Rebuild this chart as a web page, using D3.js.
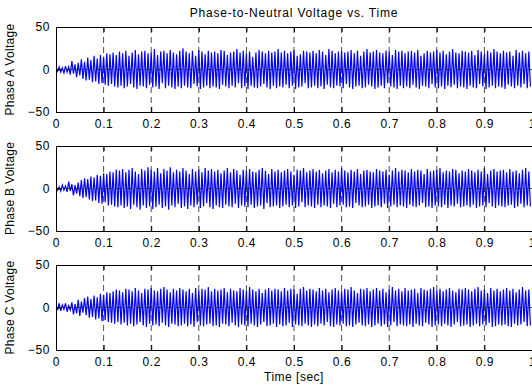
<!DOCTYPE html>
<meta charset="utf-8">
<head>
</head>
<body style="margin:0;background:#fff">
<style>
text {
  font-family: "Liberation Sans", Arial, sans-serif;
  fill: #000;
}
.grid line {
  stroke: #222;
  stroke-width: 0.8px;
  stroke-dasharray: 6,4;
}
.trace {
  fill: none;
  stroke: #0000ff;
  stroke-width: 1.2px;
}
</style>
<svg width="532" height="385"></svg>
<script src="https://cdn.jsdelivr.net/npm/d3@7"></script>
<script>
// one entry per cycle: positive and negative peak of the trace
var cycleSec = 1 / 150;

var phaseA_hi = [2,3,2,4,3,10,6,8,12,9, 14,11,16,13,17,15,19,18,20,17,
  21,19,22,16,20,23,18,21,22,19, 20,24,17,21,22,19,23,20,18,22,
  25,21,19,22,16,23,21,18,22,20, 21,19,23,22,17,20,21,24,20,22,
  19,21,15,20,23,21,19,22,20,21, 24,20,22,19,21,23,16,18,22,21,
  20,22,19,23,21,17,24,22,19,21, 22,20,21,23,19,22,16,21,24,20,
  21,23,20,19,22,21,17,23,21,22, 19,21,22,20,23,16,19,22,20,21,
  23,20,22,18,21,24,20,19,22,21, 20,22,17,23,21,19,22,20,24,21,
  19,22,20,21,16,23,20,22,19,21];
var phaseA_lo = [-2,-3,-4,-3,-6,-5,-9,-7,-11,-13, -12,-15,-14,-17,-16,-18,-19,-17,-20,-21,
  -19,-22,-20,-17,-21,-23,-19,-20,-22,-18, -21,-20,-23,-16,-22,-19,-21,-23,-20,-22,
  -19,-21,-22,-17,-20,-23,-21,-19,-22,-20, -21,-23,-18,-20,-22,-19,-21,-16,-22,-20,
  -23,-19,-21,-22,-20,-17,-21,-23,-19,-22, -20,-21,-18,-22,-19,-23,-21,-20,-16,-22,
  -21,-19,-22,-20,-23,-18,-21,-22,-19,-20, -22,-17,-21,-23,-20,-19,-22,-21,-18,-20,
  -23,-21,-19,-22,-16,-20,-21,-23,-19,-22, -20,-22,-18,-21,-23,-19,-20,-22,-17,-21,
  -22,-20,-23,-19,-21,-18,-22,-20,-21,-23, -19,-21,-22,-17,-20,-23,-21,-19,-22,-20,
  -21,-23,-18,-20,-22,-19,-21,-17,-22,-20];

var phaseB_hi = [3,2,4,3,8,5,4,7,10,12, 11,14,13,16,15,18,17,20,19,22,
  21,23,19,22,24,20,17,23,21,25, 22,20,24,18,23,21,25,19,22,20,
  24,21,17,23,20,22,19,24,21,23, 20,22,18,21,24,19,23,21,16,22,
  21,23,20,19,22,24,21,17,23,20, 22,19,21,23,20,16,22,21,24,19,
  21,23,20,22,18,21,23,19,22,20, 24,21,19,22,20,23,17,21,22,20,
  19,23,21,20,22,16,21,24,20,22, 21,19,23,20,22,21,17,23,20,21,
  22,24,19,21,20,23,22,18,21,20, 23,21,19,22,20,24,17,21,23,20,
  21,22,19,23,20,21,18,22,24,20];
var phaseB_lo = [-2,-3,-2,-4,-3,-8,-6,-9,-11,-10, -13,-15,-14,-17,-18,-16,-20,-19,-21,-22,
  -20,-23,-21,-24,-19,-22,-25,-20,-23,-21, -24,-22,-19,-23,-21,-25,-20,-22,-18,-23,
  -21,-24,-20,-22,-19,-23,-21,-17,-22,-24, -20,-22,-23,-19,-21,-22,-18,-23,-20,-21,
  -22,-19,-23,-21,-20,-24,-17,-22,-21,-20, -23,-21,-19,-22,-20,-23,-21,-16,-22,-20,
  -21,-23,-19,-22,-20,-21,-23,-18,-22,-20, -19,-22,-21,-23,-17,-20,-22,-21,-19,-23,
  -21,-20,-22,-18,-23,-21,-19,-22,-20,-21, -23,-19,-21,-22,-20,-17,-22,-21,-23,-20,
  -21,-22,-19,-23,-20,-21,-18,-22,-21,-20, -22,-19,-23,-21,-20,-22,-17,-21,-23,-20,
  -21,-22,-20,-19,-23,-21,-18,-22,-20,-21];

var phaseC_hi = [4,5,3,5,2,6,4,9,7,11, 13,10,14,12,16,15,18,17,19,21,
  20,18,22,21,19,23,20,17,22,21, 23,20,19,22,24,21,18,22,20,23,
  21,19,22,17,23,20,22,21,24,19, 22,20,21,23,18,22,20,19,23,21,
  20,24,21,19,22,17,21,23,20,22, 21,19,23,20,22,21,16,22,24,20,
  22,21,19,23,20,22,18,21,23,20, 19,22,21,24,20,17,22,21,23,19,
  21,23,20,22,18,21,24,20,22,19, 23,20,21,22,17,23,21,20,22,24,
  20,22,19,21,23,20,18,22,21,23, 21,19,22,24,20,21,17,23,20,22,
  19,21,23,20,22,18,21,24,20,21];
var phaseC_lo = [-3,-4,-2,-5,-3,-8,-7,-10,-6,-9, -12,-11,-14,-13,-16,-15,-17,-18,-19,-17,
  -20,-18,-21,-19,-22,-20,-17,-21,-23,-19, -21,-20,-22,-18,-21,-23,-19,-20,-22,-21,
  -19,-22,-20,-23,-17,-21,-22,-20,-19,-22, -21,-23,-19,-20,-22,-18,-21,-23,-20,-21,
  -22,-19,-21,-23,-20,-17,-22,-21,-19,-23, -20,-22,-21,-18,-23,-20,-21,-22,-19,-21,
  -23,-20,-22,-19,-21,-17,-22,-23,-20,-21, -19,-22,-21,-23,-20,-18,-21,-22,-20,-23,
  -21,-19,-22,-20,-23,-21,-17,-22,-20,-21, -22,-20,-23,-19,-21,-22,-18,-20,-23,-21,
  -20,-22,-19,-21,-23,-20,-17,-22,-21,-20, -23,-21,-19,-22,-20,-21,-18,-23,-22,-20,
  -21,-20,-22,-23,-19,-21,-20,-17,-22,-21];

var panels = [
  {label: "Phase A Voltage", hi: phaseA_hi, lo: phaseA_lo},
  {label: "Phase B Voltage", hi: phaseB_hi, lo: phaseB_lo},
  {label: "Phase C Voltage", hi: phaseC_hi, lo: phaseC_lo}
];
var xTicks = [0, 0.1, 0.2, 0.3, 0.4, 0.5, 0.6, 0.7, 0.8, 0.9, 1];
var yTicks = [-50, 0, 50];

var svg = d3.select("svg");
var left = 56, right = 532, plotH = 85, tops = [27, 146, 265];

var x = d3.scaleLinear().domain([0, 1]).range([left, right]);

svg.append("text")
  .attr("x", (left + right) / 2)
  .attr("y", 17)
  .attr("text-anchor", "middle")
  .style("font-size", "12px")
  .style("letter-spacing", "0.8px")
  .text("Phase-to-Neutral Voltage vs. Time");

panels.forEach(function(p, k) {
  var top = tops[k];
  var y = d3.scaleLinear().domain([-50, 50]).range([top + plotH, top]);
  var g = svg.append("g");

  var pts = [];
  p.hi.forEach(function(v, i) {
    pts.push([i * cycleSec, v]);
    pts.push([(i + 0.5) * cycleSec, p.lo[i]]);
  });

  g.append("clipPath").attr("id", "clip" + k)
    .append("rect").attr("x", left).attr("y", top).attr("width", right - left).attr("height", plotH);

  g.append("path")
    .attr("class", "trace")
    .attr("clip-path", "url(#clip" + k + ")")
    .attr("d", d3.line().x(function(d) { return x(d[0]); }).y(function(d) { return y(d[1]); })(pts));

  var grid = g.append("g").attr("class", "grid");
  grid.selectAll("line.v").data(xTicks.slice(1, -1)).enter().append("line")
    .attr("x1", function(d) { return x(d); }).attr("x2", function(d) { return x(d); })
    .attr("y1", top).attr("y2", top + plotH);
  grid.append("line")
    .attr("x1", left).attr("x2", right)
    .attr("y1", y(0)).attr("y2", y(0));

  g.append("g")
    .attr("transform", "translate(0," + (top + plotH) + ")")
    .call(d3.axisBottom(x).tickValues(xTicks).tickFormat(d3.format("")).tickSizeInner(-5).tickSizeOuter(0).tickPadding(7));
  g.append("g")
    .attr("transform", "translate(0," + top + ")")
    .call(d3.axisTop(x).tickValues(xTicks).tickFormat("").tickSizeInner(-5).tickSizeOuter(0));
  g.append("g")
    .attr("transform", "translate(" + left + ",0)")
    .call(d3.axisLeft(y).tickValues(yTicks).tickSizeInner(-5).tickSizeOuter(0).tickPadding(6));

  g.selectAll(".domain").attr("stroke", "#000");
  g.selectAll(".tick line").attr("stroke", "#000");
  g.selectAll(".tick text")
    .style("font-size", "12px")
    .style("letter-spacing", "0.6px")
    .style("font-family", "Liberation Sans, Arial, sans-serif");

  g.append("text")
    .attr("transform", "translate(14," + (top + plotH / 2) + ") rotate(-90)")
    .attr("text-anchor", "middle")
    .style("font-size", "12px")
    .style("letter-spacing", "0.3px")
    .text(p.label);
});

svg.append("text")
  .attr("x", (left + right) / 2)
  .attr("y", 381)
  .attr("text-anchor", "middle")
  .style("font-size", "12px")
  .style("letter-spacing", "0.5px")
  .text("Time [sec]");
</script>
</body>
